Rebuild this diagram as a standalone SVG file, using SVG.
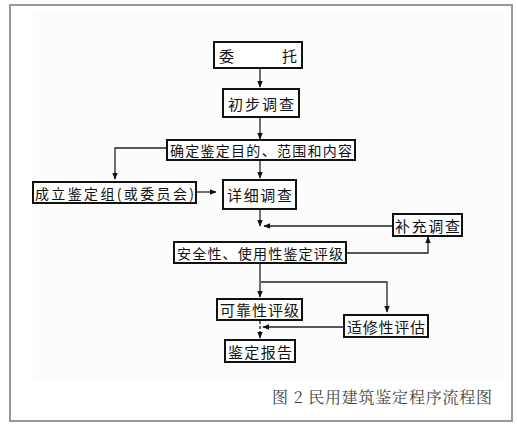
<svg xmlns="http://www.w3.org/2000/svg" width="517" height="425" viewBox="0 0 517 425">
<defs>
<style>
.box{fill:#fff;stroke:#111;stroke-width:2}
.t{font-family:"Noto Sans CJK SC","Noto Sans CJK JP",sans-serif;font-size:15px;fill:#111;dominant-baseline:central}
.s{font-size:14px}
.ln{fill:none;stroke:#222;stroke-width:1.3}
</style>
<marker id="ah" viewBox="0 0 10 10" refX="9" refY="5" markerWidth="7" markerHeight="7" markerUnits="userSpaceOnUse" orient="auto">
<path d="M0,1 L10,5 L0,9 Z" fill="#111"/>
</marker>
</defs>
<rect x="0" y="0" width="517" height="425" fill="#fff"/>
<rect x="33" y="12" width="472" height="370" fill="#fcfcfc"/>
<rect x="10" y="5" width="502" height="416" fill="none" stroke="#999" stroke-width="2"/>
<g id="connectors">
<path class="ln" d="M260,68 V87" marker-end="url(#ah)"/>
<path class="ln" d="M260,118 V139" marker-end="url(#ah)"/>
<path class="ln" d="M166,148 H115 V179" marker-end="url(#ah)"/>
<path class="ln" d="M260,160 V178" marker-end="url(#ah)"/>
<path class="ln" d="M197,192 H216" marker-end="url(#ah)"/>
<path class="ln" d="M260,210 V226" marker-end="url(#ah)"/>
<path class="ln" d="M393,226 H264" marker-end="url(#ah)"/>
<path class="ln" d="M346,253 H428 V237" marker-end="url(#ah)"/>
<path class="ln" d="M260,264 V297" marker-end="url(#ah)"/>
<path class="ln" d="M261,282 H387 V312" marker-end="url(#ah)"/>
<path class="ln" d="M344,327 H263" marker-end="url(#ah)"/>
<path class="ln" d="M260,321 V338" marker-end="url(#ah)" stroke-dasharray="3,2"/>
</g>
<g id="n1"><rect class="box" x="214" y="42" width="88" height="26"/><text class="t" x="219" y="55">委</text><text class="t" x="282" y="55">托</text></g>
<g id="n2"><rect class="box" x="223" y="89" width="76" height="28"/><text class="t" x="228" y="103" textLength="66" lengthAdjust="spacing">初步调查</text></g>
<g id="n3"><rect class="box" x="167" y="140" width="188" height="20"/><text class="t s" x="170" y="150" textLength="182" lengthAdjust="spacing">确定鉴定目的、范围和内容</text></g>
<g id="n4"><rect class="box" x="33" y="182" width="163" height="21"/><text class="t s" x="35" y="192.5" textLength="159" lengthAdjust="spacing">成立鉴定组(或委员会)</text></g>
<g id="n5"><rect class="box" x="223" y="180" width="73" height="29"/><text class="t" x="227" y="194.5" textLength="65" lengthAdjust="spacing">详细调查</text></g>
<g id="n6"><rect class="box" x="393" y="214" width="69" height="22"/><text class="t" x="395" y="225" textLength="65" lengthAdjust="spacing">补充调查</text></g>
<g id="n7"><rect class="box" x="174" y="242" width="172" height="21"/><text class="t s" x="177" y="252.5" textLength="166" lengthAdjust="spacing">安全性、使用性鉴定评级</text></g>
<g id="n8"><rect class="box" x="217" y="299" width="85" height="21"/><text class="t" x="220" y="309.5" textLength="79" lengthAdjust="spacing">可靠性评级</text></g>
<g id="n9"><rect class="box" x="344" y="315" width="84" height="22"/><text class="t" x="347" y="326" textLength="78" lengthAdjust="spacing">适修性评估</text></g>
<g id="n10"><rect class="box" x="225" y="340" width="70" height="22"/><text class="t" x="228" y="351" textLength="64" lengthAdjust="spacing">鉴定报告</text></g>
<text x="272" y="403" font-family="'Noto Serif CJK SC','Noto Sans CJK SC',serif" font-size="16" fill="#444" textLength="220">图 2 民用建筑鉴定程序流程图</text>
</svg>
